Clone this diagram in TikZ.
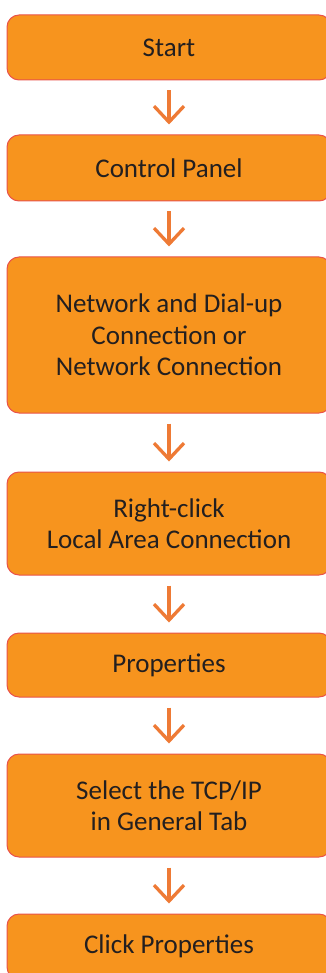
\documentclass[tikz,border=0pt]{standalone}
\usepackage{fontspec}
\setmainfont{Carlito}
\usetikzlibrary{arrows.meta}
\definecolor{boxfill}{HTML}{F7941E}
\definecolor{boxline}{HTML}{E9524A}
\definecolor{arrcol}{HTML}{EE7A35}
\definecolor{txt}{HTML}{231F20}
\tikzset{
  stepbox/.style={draw=boxline, line width=1pt, fill=boxfill, rounded corners=12pt,
    minimum width=324pt, inner sep=0pt, align=center, text=txt,
    font=\fontsize{27}{31.5}\selectfont},
  flowarr/.style={draw=arrcol, line width=3.3pt, shorten <=10pt, shorten >=10pt,
    -{Straight Barb[length=16pt,width=30pt,line width=3.3pt]}}
}
\begin{document}
\begin{tikzpicture}[x=1pt,y=-1pt]
\useasboundingbox (0,0) rectangle (326,973);
\node[stepbox, minimum height=65pt] (b1) at (169,47.5) {Start};
\node[stepbox, minimum height=66pt] (b2) at (169,168) {Control Panel};
\node[stepbox, minimum height=156pt] (b3) at (169,335) {Network and Dial-up\\Connection or\\Network Connection};
\node[stepbox, minimum height=103pt] (b4) at (169,523.5) {Right-click\\Local Area Connection};
\node[stepbox, minimum height=64pt] (b5) at (169,665) {Properties};
\node[stepbox, minimum height=103pt] (b6) at (169,805.5) {Select the TCP/IP\\in General Tab};
\node[stepbox, minimum height=65pt] (b7) at (169,946.5) {Click Properties};
\draw[flowarr] (b1) -- (b2);
\draw[flowarr] (b2) -- (b3);
\draw[flowarr] (b3) -- (b4);
\draw[flowarr] (b4) -- (b5);
\draw[flowarr] (b5) -- (b6);
\draw[flowarr] (b6) -- (b7);
\end{tikzpicture}
\end{document}
